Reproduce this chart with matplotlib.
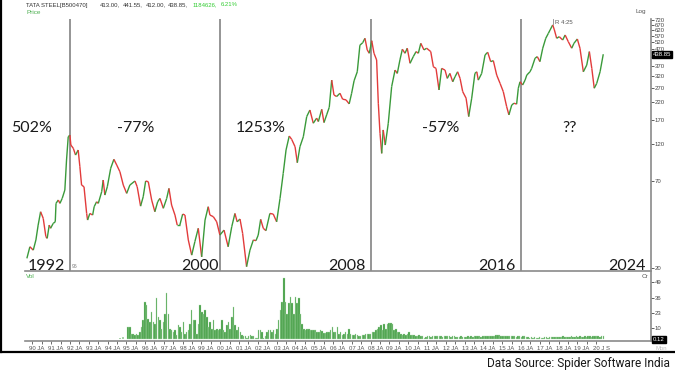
import numpy as np
import matplotlib.pyplot as plt
import matplotlib.transforms as mtransforms
from matplotlib.collections import LineCollection
from matplotlib.lines import Line2D

W, H = 675, 375

def fx(x):
    return x / W

def fy(y):
    return 1 - y / H

# monthly-ish closes (decimal year, price)
price_t = [1989.71, 1989.87, 1990.05, 1990.19, 1990.31, 1990.44, 1990.58, 1990.72, 1990.79, 1990.90,
           1990.97, 1991.11, 1991.22, 1991.26, 1991.38, 1991.47, 1991.59, 1991.73, 1991.82, 1991.91,
           1992.00, 1992.05, 1992.18, 1992.30, 1992.44, 1992.53, 1992.62, 1992.75, 1992.89, 1992.94,
           1993.06, 1993.21, 1993.29, 1993.42, 1993.51, 1993.69, 1993.77, 1993.86, 1993.99, 1994.17,
           1994.34, 1994.49, 1994.66, 1994.84, 1995.02, 1995.19, 1995.46, 1995.58, 1995.76, 1995.90,
           1996.03, 1996.17, 1996.35, 1996.52, 1996.67, 1996.79, 1996.97, 1997.15, 1997.27, 1997.41,
           1997.59, 1997.71, 1997.85, 1998.00, 1998.12, 1998.30, 1998.48, 1998.65, 1998.83, 1999.01,
           1999.19, 1999.36, 1999.45, 1999.63, 1999.81, 1999.98,
           2000.20, 2000.42, 2000.61, 2000.78, 2000.90, 2001.05, 2001.19, 2001.40, 2001.58, 2001.76,
           2001.90, 2002.02, 2002.15, 2002.29, 2002.43, 2002.64, 2002.82, 2003.00, 2003.18, 2003.35,
           2003.50, 2003.67, 2003.80, 2003.98, 2004.10, 2004.24, 2004.42, 2004.60, 2004.77, 2004.95,
           2005.13, 2005.22, 2005.40, 2005.52, 2005.66, 2005.80, 2005.93, 2006.05, 2006.19, 2006.37,
           2006.51, 2006.69, 2006.86, 2006.99, 2007.12, 2007.29, 2007.43, 2007.58, 2007.70, 2007.82,
           2007.93, 2008.06, 2008.18, 2008.32,
           2008.41, 2008.50, 2008.59, 2008.67, 2008.78, 2008.94, 2009.12, 2009.30, 2009.42, 2009.56,
           2009.69, 2009.83, 2009.95, 2010.10, 2010.27, 2010.42, 2010.54, 2010.67, 2010.84, 2010.98,
           2011.20, 2011.34, 2011.48, 2011.64, 2011.78, 2011.96, 2012.08, 2012.22, 2012.37, 2012.49,
           2012.63, 2012.76, 2012.90, 2013.08, 2013.22, 2013.38, 2013.55, 2013.65, 2013.73, 2013.91,
           2014.09, 2014.23, 2014.39, 2014.53, 2014.71, 2014.89, 2015.06, 2015.24, 2015.36, 2015.51,
           2015.63, 2015.77, 2015.86, 2015.95, 2016.09, 2016.22, 2016.31, 2016.48, 2016.57, 2016.75,
           2016.87, 2017.01, 2017.16, 2017.32, 2017.46, 2017.55, 2017.69, 2017.78, 2017.90, 2018.04,
           2018.22, 2018.35, 2018.52, 2018.70, 2018.82, 2019.00, 2019.14, 2019.32, 2019.50, 2019.64,
           2019.77, 2019.90, 2020.03, 2020.21, 2020.38]
price = [23.0, 27.2, 25.9, 30.0, 37.2, 45.1, 41.0, 31.5, 30.7, 37.2,
         35.5, 38.1, 39.0, 50.9, 53.4, 50.9, 54.7, 61.7, 95.2, 133.2,
         136.5, 118.2, 112.8, 102.3, 110.0, 86.4, 66.3, 64.7, 44.0, 40.0,
         44.0, 43.0, 48.5, 52.1, 50.9, 60.2, 71.3, 57.4, 64.7, 84.5,
         96.2, 88.6, 80.4, 66.3, 58.8, 66.3, 70.3, 64.7, 48.9, 56.0,
         70.3, 69.6, 53.4, 45.1, 52.1, 54.7, 47.4, 54.7, 63.2, 49.7,
         43.0, 37.2, 37.2, 43.6, 43.0, 30.0, 24.1, 29.3, 35.5, 23.5,
         40.0, 48.5, 43.0, 42.0, 39.0, 32.2,
         34.6, 27.2, 36.3, 44.0, 39.0, 40.6, 33.0, 20.4, 25.9, 30.0,
         29.7, 32.2, 40.4, 35.5, 34.3, 44.0, 43.6, 39.0, 54.7, 78.5,
         110.0, 134.6, 128.3, 115.4, 91.6, 115.4, 133.2, 178.3, 196.0, 162.0,
         174.3, 165.9, 198.0, 163.5, 182.7, 203.8, 302.0, 243.7, 238.1, 249.7,
         229.3, 227.0, 214.2, 249.7, 299.0, 340.6, 500.0, 518.5, 552.5, 467.0,
         445.0, 533.6, 445.0, 404.0,
         216.3, 140.1, 104.8, 147.0, 118.2, 162.0, 274.8, 349.0, 332.6, 404.0,
         471.7, 445.0, 478.7, 385.0, 423.8, 455.8, 445.0, 513.7, 467.0, 478.7,
         455.8, 366.1, 357.7, 262.0, 357.7, 349.0, 309.6, 332.6, 294.8, 316.8,
         340.6, 309.6, 255.7, 232.7, 178.3, 232.7, 332.6, 340.6, 302.0, 332.6,
         434.3, 451.5, 394.3, 400.0, 324.7, 287.8, 255.7, 205.6, 182.7, 210.7,
         216.3, 213.4, 268.6, 294.8, 281.6, 302.0, 324.7, 340.6, 357.7, 414.1,
         423.8, 394.3, 478.7, 552.5, 593.7, 623.0, 670.0, 623.0, 552.5, 565.4,
         539.0, 579.4, 526.0, 478.7, 513.7, 546.9, 478.7, 340.6, 375.1, 455.8,
         357.7, 268.6, 287.8, 340.6, 438.85]

# volume (Cr), pre-1995 traces then bars from 1995 to 2020
vol_early = [0.6, 0.5, 0.6, 0.7, 0.5, 0.6, 0.6, 0.5, 0.7, 0.6,
             0.6, 0.5, 0.6, 0.7, 0.6, 0.5, 0.6, 0.6, 0.7, 0.6,
             0.5, 0.6, 0.6, 0.7, 0.6, 0.8, 0.9, 2.0]
volume = [10.8, 10.8, 5.1, 5.1, 4.0, 5.0, 4.0, 6.5, 10.8, 16.6,
          32.5, 29.6, 18.0, 15.0, 23.7, 15.0, 13.5, 35.4, 19.4, 16.6,
          9.4, 15.0, 22.2, 39.7, 22.2, 9.4, 8.0, 6.5, 8.0, 4.2,
          12.3, 10.8, 6.5, 15.0, 5.0, 6.5, 8.0, 13.5, 25.0, 16.6,
          16.6, 5.0, 13.5, 29.6, 23.7, 22.2, 25.0, 19.4, 10.8, 15.0,
          9.4, 16.6, 8.0, 9.4, 8.0, 9.4, 16.6, 8.0, 6.5, 12.3,
          15.0, 9.4, 19.4, 28.1, 12.3, 8.0, 10.8, 6.5, 4.2, 2.8,
          2.8, 1.3, 2.8, 4.2, 2.8, 2.8, 1.3, 1.3, 8.0, 8.0,
          6.5, 1.3, 2.8, 6.5, 8.0, 8.0, 6.5, 8.0, 5.0, 9.4,
          16.6, 25.0, 32.5, 52.7, 32.5, 22.2, 31.0, 36.8, 31.0, 22.2,
          36.8, 31.0, 35.4, 22.2, 13.5, 9.4, 8.0, 9.4, 9.4, 8.5,
          8.5, 8.5, 8.0, 6.5, 6.5, 8.0, 7.0, 6.0, 5.6, 6.5,
          6.5, 8.0, 10.8, 6.5, 6.5, 10.8,
          5.0, 6.5, 4.2, 5.0, 6.5, 5.0, 9.4, 5.0, 4.2, 4.2,
          5.0, 4.2, 2.8, 2.8, 4.2, 4.2, 5.0, 5.0, 5.0, 5.0,
          6.5, 6.5, 8.0, 9.4, 10.8, 12.3, 8.0, 13.5, 9.4, 13.5,
          14.0, 14.0, 13.5, 8.0, 9.4, 6.5, 6.5, 5.0, 4.2, 5.0,
          4.2, 5.0, 6.5, 4.2, 4.2, 4.2, 2.8, 2.8, 4.2, 3.4,
          2.8, 1.3, 2.0, 2.8, 2.8, 2.0, 2.8, 2.8, 3.4, 3.4,
          2.8,
          2.8, 2.4, 2.8, 3.0, 2.6, 2.8, 2.2, 2.6, 2.8, 2.4,
          2.0, 2.2, 2.6, 2.4, 2.0, 2.2, 2.8, 2.4, 2.6, 2.2,
          2.6, 2.8, 3.0, 2.6, 2.4, 2.8, 3.2, 3.0, 2.6, 2.8,
          3.0, 3.4, 3.0, 3.6, 4.2, 3.8, 3.4, 3.0, 3.4, 3.0,
          2.8, 3.2, 2.8, 2.6, 2.8, 2.4, 2.8, 3.0, 2.4, 2.8,
          2.6, 2.0, 2.4, 1.6, 2.0, 1.4, 1.8, 1.6, 1.4, 2.0,
          1.6, 1.4, 1.8, 2.0, 1.6, 1.8, 2.0, 1.8, 2.2, 2.0,
          2.4, 2.0, 2.2, 2.6, 2.2, 2.4, 2.0, 2.2, 2.6, 2.4,
          2.2, 2.6, 2.4, 2.8, 2.4, 2.2, 2.6, 2.4, 2.8, 2.6,
          2.4, 2.8, 2.6, 3.0, 2.6, 2.4, 2.8, 3.0]

price_ticks = [20, 70, 120, 170, 220, 270, 320, 370, 420, 470, 520, 570, 620, 670, 720]
vol_ticks = [10, 23, 36, 49]
year_ticks = list(range(1990, 2021))
year_labels = ['90 JA', '91 JA', '92 JA', '93 JA', '94 JA', '95 JA', '96 JA', '97 JA',
               '98 JA', '99 JA', '00 JA', '01 JA', '02 JA', '03 JA', '04 JA', '05 JA',
               '06 JA', '07 JA', '08 JA', '09 JA', '10 JA', '11 JA', '12 JA', '13 JA',
               '14 JA', '15 JA', '16 JA', '17 JA', '18 JA', '19 JA', '20 J S']
cycle_years = [1992, 2000, 2008, 2016]
cycle_labels = ['1992', '2000', '2008', '2016', '2024']
moves = ['502%', '-77%', '1253%', '-57%', '??']
header_quote = ['413.00,', '441.55,', '412.00,', '438.85,']
header_change = ['1184626,', '6.21%']

GREEN = '#3a9a3a'
RED = '#e23b3b'
XLIM = (1989.61, 2022.92)
small = ['Liberation Sans', 'DejaVu Sans']

fig = plt.figure(figsize=(6.75, 3.75), dpi=100)
fig.patch.set_facecolor('white')

# ---- price panel ----
ax = fig.add_axes([fx(25), fy(270.5), fx(651) - fx(25), fy(19) - fy(270.5)])
ax.set_yscale('log')
ax.set_xlim(*XLIM)
ax.set_ylim(19.3, 730)
for s in ['top', 'left']:
    ax.spines[s].set_visible(False)
for s in ['bottom', 'right']:
    ax.spines[s].set_color('#8a8a8a')
    ax.spines[s].set_linewidth(1.2)
ax.set_xticks([])
ax.yaxis.tick_right()
ax.set_yticks(price_ticks)
ax.set_yticklabels([str(v) for v in price_ticks])
ax.yaxis.set_minor_locator(plt.NullLocator())
ax.tick_params(axis='y', length=2, width=0.6, pad=0.5, labelsize=4.3,
               colors='#444444', direction='out')
for lab in ax.get_yticklabels():
    lab.set_family(small)

for yr in cycle_years:
    ax.axvline(yr, color='#8c8c8c', lw=1.3, zorder=1)

t = np.array(price_t)
p = np.array(price)
pts = np.column_stack([t, p]).reshape(-1, 1, 2)
segs = np.concatenate([pts[:-1], pts[1:]], axis=1)
cols = [GREEN if b >= a else RED for a, b in zip(p[:-1], p[1:])]
lc = LineCollection(segs, colors=cols, linewidths=1.0, zorder=3)
ax.add_collection(lc)

# current price box
bt = mtransforms.blended_transform_factory(ax.transAxes, ax.transData)
ax.text(1.003, price[-1], f'{price[-1]:.2f}', transform=bt, ha='left', va='center',
        fontsize=4.3, color='white', family=small, zorder=6,
        bbox=dict(boxstyle='square,pad=0.15', fc='black', ec='black'))

# R 4:25 marker at the peak
ipk = int(np.argmax(p))
ax.plot([t[ipk], t[ipk]], [p[ipk] * 1.02, 725], color='#888888', lw=0.6)
ax.text(t[ipk] + 0.1, 690, 'R 4:25', fontsize=4.3, color='#555555', family=small,
        va='center')

# ---- volume panel ----
vax = fig.add_axes([fx(25), fy(341), fx(651) - fx(25), fy(272) - fy(341)])
vax.set_xlim(*XLIM)
vax.set_ylim(-1.3, 58)
vax.spines['top'].set_visible(False)
vax.spines['left'].set_visible(False)
for s in ['bottom', 'right']:
    vax.spines[s].set_color('#8a8a8a')
    vax.spines[s].set_linewidth(1.2)

vt_early = np.linspace(1989.8, 1994.84, len(vol_early))
vax.bar(vt_early, vol_early, width=0.09, color='#a9d3a9', linewidth=0)
vt = np.linspace(1995.1, 2020.38, len(volume))
vax.bar(vt, volume, width=0.08, color='#3f9c3f', edgecolor='#b9e0b9', linewidth=0.25)

vax.yaxis.tick_right()
vax.set_yticks(vol_ticks)
vax.set_yticklabels([str(v) for v in vol_ticks])
vax.tick_params(axis='y', length=2, width=0.6, pad=0.5, labelsize=4.3, colors='#444444')
vax.set_xticks(year_ticks)
vax.set_xticklabels(year_labels)
vax.set_xticks([y + 0.5 for y in year_ticks[:-1]], minor=True)
vax.tick_params(axis='x', which='both', length=2, width=0.6, pad=1.5, labelsize=4.3,
                colors='#555555', direction='out')
shift = mtransforms.ScaledTranslation(-3 / 100, 0, fig.dpi_scale_trans)
for lab in vax.get_xticklabels():
    lab.set_ha('left')
    lab.set_family(small)
    lab.set_transform(lab.get_transform() + shift)
for lab in vax.get_yticklabels():
    lab.set_family(small)

vbt = mtransforms.blended_transform_factory(vax.transAxes, vax.transData)
vax.text(1.003, 0.12, '0.12', transform=vbt, ha='left', va='center', fontsize=4.3,
         color='white', family=small, zorder=6,
         bbox=dict(boxstyle='square,pad=0.15', fc='black', ec='black'))

# ---- header texts ----
fig.text(fx(26), fy(5), 'TATA STEEL[B500470]', fontsize=4.3, color='#333333',
         family=small, va='center')
for s, x in zip(header_quote, [100, 123, 146, 168]):
    fig.text(fx(x), fy(5), s, fontsize=4.3, color='#333333', family=small, va='center')
for s, x in zip(header_change, [193, 221]):
    fig.text(fx(x), fy(5), s, fontsize=4.3, color='#33cc33', family=small, va='center')
fig.text(fx(26), fy(13), 'Price', fontsize=4.6, color='#4caf50', family=small, va='center')
fig.text(fx(635), fy(12), 'Log', fontsize=4.6, color='#555555', family=small, va='center')
fig.text(fx(26), fy(276), 'Vol', fontsize=4.6, color='#4caf50', family=small, va='center')
fig.text(fx(648), fy(277), 'Cr', fontsize=4.6, color='#555555', family=small,
         va='center', ha='right')
fig.text(fx(656), fy(348), 'Mon', fontsize=4.3, color='#c0c0c0', family=small, va='center')
fig.text(fx(72), fy(266), '96', fontsize=3.6, color='#777777', family=small, va='center')

# ---- cycle annotations ----
big = ['Lato', 'DejaVu Sans']
move_x = [32, 136, 261, 441, 569.5]
for s, x in zip(moves, move_x):
    fig.text(fx(x), fy(128), s, fontsize=11.5, family=big, color='#1a1a1a',
             ha='center', va='center')
label_right = [65, 219, 366, 516, 646]
for s, x in zip(cycle_labels, label_right):
    fig.text(fx(x), fy(265.5), s, fontsize=11.5, family=big, color='#1a1a1a',
             ha='right', va='center')

fig.text(fx(670), fy(364), 'Data Source: Spider Software India', fontsize=8.6,
         family=['Roboto', 'DejaVu Sans'], color='#1a1a1a', ha='right', va='center')

# outer frame (left and bottom)
fig.add_artist(Line2D([fx(1), fx(1)], [fy(0), fy(352)], color='black', lw=1.6,
                      transform=fig.transFigure))
fig.add_artist(Line2D([fx(0), fx(675)], [fy(352), fy(352)], color='black', lw=1.6,
                      transform=fig.transFigure))

fig.savefig('out.png', dpi=100)
